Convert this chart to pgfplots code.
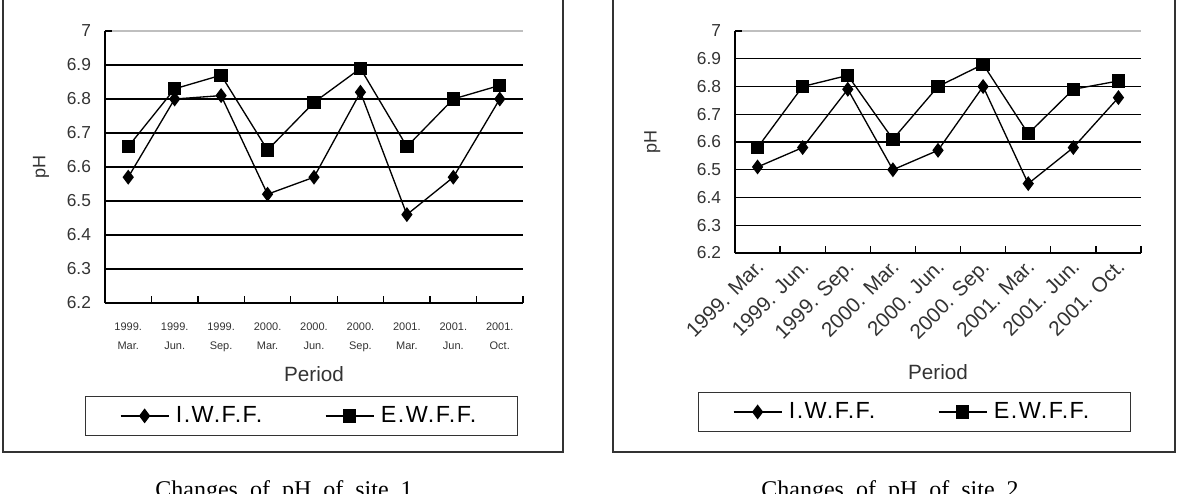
\documentclass[border=0pt]{standalone}
\usepackage{fontspec}
\setmainfont{Liberation Sans}
\newfontfamily\legfont[LetterSpace=6]{Liberation Sans}
\newfontfamily\capfont{Liberation Serif}
\usepackage{pgfplots}
\pgfplotsset{compat=1.18}
\definecolor{txt}{HTML}{333333}
\definecolor{frm}{HTML}{333333}

\pgfplotsset{
  phstyle/.style={
    scale only axis,
    axis lines*=left,
    axis line style={line width=1pt, black},
    xmin=-0.5, xmax=8.5, ymin=6.2, ymax=7,
    ytick={6.2,6.3,6.4,6.5,6.6,6.7,6.8,6.9},
    extra y ticks={7},
    extra y tick style={grid=major, major grid style={black!25, line width=1pt}},
    ymajorgrids,
    major grid style={black, line width=1pt},
    tick align=inside,
    major tick length=5pt,
    tick style={black, line width=1pt},
    xtick={-0.5,0.5,1.5,2.5,3.5,4.5,5.5,6.5,7.5,8.5},
    xticklabels={},
    extra x ticks={0,1,2,3,4,5,6,7,8},
    extra x tick style={major tick length=0pt, grid=none},
    /pgf/number format/assume math mode=true,
    yticklabel style={font=\fontsize{13}{15}\selectfont, text=txt, xshift=-7pt},
    xlabel={Period},
    ylabel={pH},
    xlabel style={font=\fontsize{15.5}{18}\selectfont, text=txt, anchor=center},
    ylabel style={font=\fontsize{13.5}{16}\selectfont, text=txt, anchor=center},
    legend columns=2,
    legend cell align=left,
    legend image code/.code={\draw[mark repeat=2,mark phase=2,#1] plot coordinates {(0pt,0pt) (18pt,0pt) (36pt,0pt)};},
    legend style={anchor=center, draw=frm, line width=1pt,
      font=\legfont\fontsize{17.5}{20}\selectfont, text=black,
      inner xsep=26pt, inner ysep=2pt,
      nodes={inner xsep=5pt, inner ysep=6pt},
      /tikz/every even column/.append style={column sep=42pt}},
    iw/.style={black, line width=1pt, mark=diamond*, mark size=4.8pt, mark options={solid, fill=black}},
    ew/.style={black, line width=1pt, mark=square*, mark size=4.5pt, mark options={solid, fill=black}},
  }
}

\begin{document}
\begin{tikzpicture}[x=0.75pt,y=0.75pt]
\useasboundingbox (0,0) rectangle (1182,493);
\clip (0,0) rectangle (1182,493);
\draw[line width=1.5pt, frm] (3,41) rectangle (563,510);
\draw[line width=1.5pt, frm] (613,41) rectangle (1175,510);

\begin{axis}[phstyle,
  at={(78.75pt,142.5pt)}, anchor=south west,
  width=313.5pt, height=204pt,
  extra x tick labels={{1999.\\Mar.},{1999.\\Jun.},{1999.\\Sep.},{2000.\\Mar.},{2000.\\Jun.},{2000.\\Sep.},{2001.\\Mar.},{2001.\\Jun.},{2001.\\Oct.}},
  xticklabel style={align=center, font=\fontsize{8.25}{14.25}\selectfont, text=txt, yshift=-11.5pt},
  xlabel style={at={(axis description cs:0.5,-0.261)}},
  ylabel style={at={(axis description cs:-0.153,0.5)}},
  legend style={at={(0.470,-0.415)}},
]
\addplot[iw] coordinates {(0,6.57) (1,6.80) (2,6.81) (3,6.52) (4,6.57) (5,6.82) (6,6.46) (7,6.57) (8,6.80)};
\addplot[ew] coordinates {(0,6.66) (1,6.83) (2,6.87) (3,6.65) (4,6.79) (5,6.89) (6,6.66) (7,6.80) (8,6.84)};
\legend{I.W.F.F., E.W.F.F.}
\end{axis}

\begin{axis}[phstyle,
  at={(551.25pt,180pt)}, anchor=south west,
  width=304.5pt, height=166.5pt,
  extra x tick labels={{1999. Mar.},{1999. Jun.},{1999. Sep.},{2000. Mar.},{2000. Jun.},{2000. Sep.},{2001. Mar.},{2001. Jun.},{2001. Oct.}},
  xticklabel style={rotate=45, anchor=north east, font=\fontsize{15.5}{17}\selectfont, text=txt, inner sep=1pt, xshift=-3pt},
  xlabel style={at={(axis description cs:0.5,-0.536)}},
  ylabel style={at={(axis description cs:-0.204,0.5)}},
  legend style={at={(0.442,-0.716)}},
]
\addplot[iw] coordinates {(0,6.51) (1,6.58) (2,6.79) (3,6.50) (4,6.57) (5,6.80) (6,6.45) (7,6.58) (8,6.76)};
\addplot[ew] coordinates {(0,6.58) (1,6.80) (2,6.84) (3,6.61) (4,6.80) (5,6.88) (6,6.63) (7,6.79) (8,6.82)};
\legend{I.W.F.F., E.W.F.F.}
\end{axis}

\node[anchor=base, font=\capfont\fontsize{18}{20}\selectfont] at (284,-4)
  {Changes\hspace{4.5pt} of\hspace{4.5pt} pH\hspace{4.5pt} of\hspace{4.5pt} site\hspace{4.5pt} 1};
\node[anchor=base, font=\capfont\fontsize{18}{20}\selectfont] at (890,-4)
  {Changes\hspace{4.5pt} of\hspace{4.5pt} pH\hspace{4.5pt} of\hspace{4.5pt} site\hspace{4.5pt} 2};
\end{tikzpicture}
\end{document}
